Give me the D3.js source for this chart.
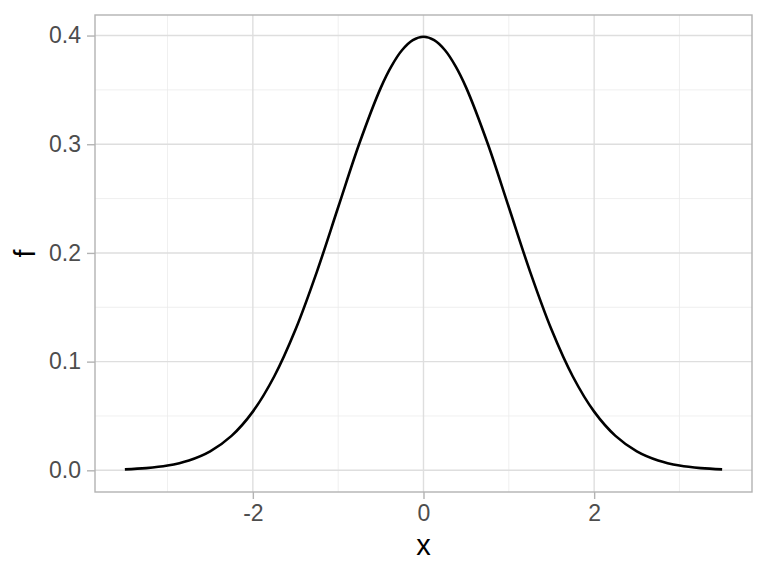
<!DOCTYPE html>
<html>
<head>
<meta charset="utf-8">
<script src="https://cdn.jsdelivr.net/npm/d3@7"></script>
<style>
  body { margin: 0; background: #fff; }
  svg text { font-family: "Liberation Sans", Arial, sans-serif; }
</style>
</head>
<body>
<div id="chart"></div>
<script>
// values
const xs = [-3.5, -3.25, -3, -2.75, -2.5, -2.25, -2, -1.75, -1.5, -1.25, -1, -0.75, -0.5, -0.375, -0.25, -0.125,
  0, 0.125, 0.25, 0.375, 0.5, 0.75, 1, 1.25, 1.5, 1.75, 2, 2.25, 2.5, 2.75, 3, 3.25, 3.5]
const fs = [0.0009, 0.0020, 0.0044, 0.0091, 0.0175, 0.0317, 0.0540, 0.0863, 0.1295, 0.1826, 0.2420, 0.3011, 0.3521, 0.3719, 0.3867, 0.3958,
  0.3989, 0.3958, 0.3867, 0.3719, 0.3521, 0.3011, 0.2420, 0.1826, 0.1295, 0.0863, 0.0540, 0.0317, 0.0175, 0.0091, 0.0044, 0.0020, 0.0009]
const xTicks = [-2, 0, 2]
const xMinor = [-3, -1, 1, 3]
const yTicks = [0, 0.1, 0.2, 0.3, 0.4]
const yMinor = [0.05, 0.15, 0.25, 0.35]

const W = 768, H = 576
const panel = {left: 95, right: 752, top: 15, bottom: 492}

const svg = d3.select('#chart').append('svg').attr('width', W).attr('height', H)

const x = d3.scaleLinear().domain([-3.85, 3.85]).range([panel.left, panel.right])
const y = d3.scaleLinear().domain([-0.01995, 0.4189]).range([panel.bottom, panel.top])

// minor grid
svg.selectAll('.vminor').data(xMinor).enter().append('line')
  .attr('x1', d => x(d)).attr('x2', d => x(d))
  .attr('y1', panel.top).attr('y2', panel.bottom)
  .attr('stroke', '#ebebeb').attr('stroke-width', 0.8)
svg.selectAll('.hminor').data(yMinor).enter().append('line')
  .attr('y1', d => y(d)).attr('y2', d => y(d))
  .attr('x1', panel.left).attr('x2', panel.right)
  .attr('stroke', '#ebebeb').attr('stroke-width', 0.8)
// major grid
svg.selectAll('.vmajor').data(xTicks).enter().append('line')
  .attr('x1', d => x(d)).attr('x2', d => x(d))
  .attr('y1', panel.top).attr('y2', panel.bottom)
  .attr('stroke', '#dedede').attr('stroke-width', 1.4)
svg.selectAll('.hmajor').data(yTicks).enter().append('line')
  .attr('y1', d => y(d)).attr('y2', d => y(d))
  .attr('x1', panel.left).attr('x2', panel.right)
  .attr('stroke', '#dedede').attr('stroke-width', 1.4)

// the curve
const line = d3.line()
  .x((d, i) => x(xs[i]))
  .y(d => y(d))
  .curve(d3.curveCatmullRom)
svg.append('path').datum(fs)
  .attr('d', line)
  .attr('fill', 'none').attr('stroke', '#000').attr('stroke-width', 2.6)

// panel border
svg.append('rect')
  .attr('x', panel.left).attr('y', panel.top)
  .attr('width', panel.right - panel.left).attr('height', panel.bottom - panel.top)
  .attr('fill', 'none').attr('stroke', '#b3b3b3').attr('stroke-width', 1.4)

// axes
const xAxis = svg.append('g').attr('transform', `translate(0,${panel.bottom})`)
  .call(d3.axisBottom(x).tickValues(xTicks).tickSize(7).tickPadding(6).tickFormat(d3.format('d')))
const yAxis = svg.append('g').attr('transform', `translate(${panel.left},0)`)
  .call(d3.axisLeft(y).tickValues(yTicks).tickSize(8).tickPadding(6).tickFormat(d3.format('.1f')))
;[xAxis, yAxis].forEach(g => {
  g.attr('font-size', null).attr('font-family', null)
  g.select('.domain').remove()
  g.selectAll('.tick line').attr('stroke', '#b3b3b3').attr('stroke-width', 1.4)
  g.selectAll('.tick text').attr('fill', '#4d4d4d').style('font-size', '23px')
})
xAxis.selectAll('.tick text').text(d => d < 0 ? '-' + Math.abs(d) : d)

// titles
svg.append('text').attr('x', (panel.left + panel.right) / 2).attr('y', 555)
  .attr('text-anchor', 'middle').style('font-size', '29px').attr('fill', '#000').text('x')
svg.append('text').attr('transform', `translate(35,${(panel.top + panel.bottom) / 2}) rotate(-90)`)
  .attr('text-anchor', 'middle').style('font-size', '29px').attr('fill', '#000').text('f')
</script>
</body>
</html>
